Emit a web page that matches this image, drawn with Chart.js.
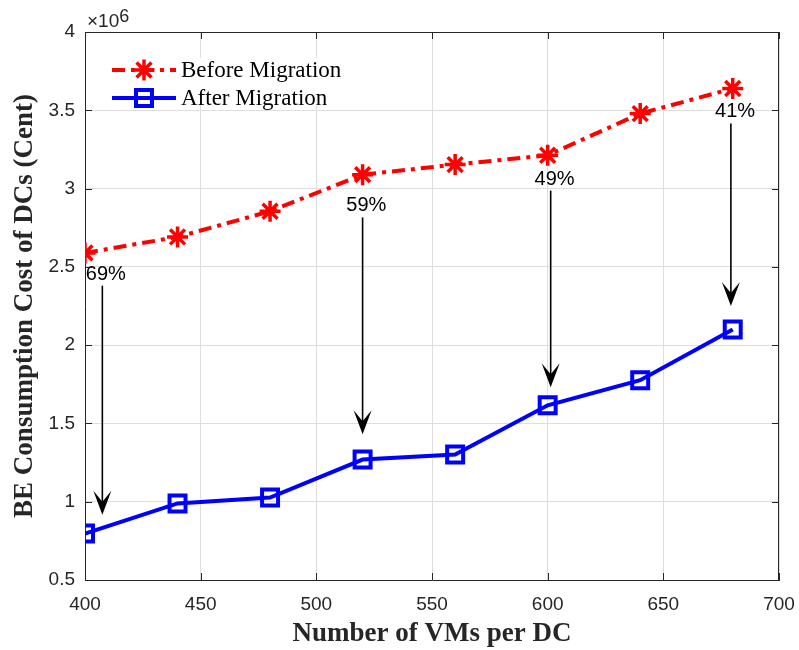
<!DOCTYPE html>
<html><head><meta charset="utf-8">
<script src="https://cdn.jsdelivr.net/npm/chart.js@4/dist/chart.umd.min.js"></script>
<style>html,body{margin:0;padding:0;background:#fff;}#wrap{width:799px;height:650px;}</style>
</head><body><div id="wrap"><canvas id="c" width="799" height="650"></canvas></div>
<script>
const vmCounts = [400, 440, 480, 520, 560, 600, 640, 680];
const beforeMigration = [2.589, 2.691, 2.855, 3.089, 3.153, 3.213, 3.479, 3.639];
const afterMigration = [0.797, 0.989, 1.027, 1.269, 1.301, 1.616, 1.776, 2.100];
const xTicks = [400, 450, 500, 550, 600, 650, 700];
const yTicks = [0.5, 1, 1.5, 2, 2.5, 3, 3.5, 4];
const reductionLabels = ['69%', '59%', '49%', '41%'];
const labelX = [409, 521.6, 603, 681];
const labelY = [2.45, 2.89, 3.058, 3.49];
const arrowX = [407.5, 520, 601.3, 679.2];
const arrowFrom = [2.38, 2.816, 2.987, 3.415];
const arrowTo = [0.917, 1.431, 1.731, 2.25];
const yExponentBase = '\u00d710';
const yExponent = '6';

function drawMarker(ctx, style, r, x, y) {
  ctx.beginPath();
  if (style === 'star') {
    const o = Math.cos(Math.PI / 4) * r;
    ctx.moveTo(x, y - r); ctx.lineTo(x, y + r);
    ctx.moveTo(x - r, y); ctx.lineTo(x + r, y);
    ctx.moveTo(x - o, y - o); ctx.lineTo(x + o, y + o);
    ctx.moveTo(x - o, y + o); ctx.lineTo(x + o, y - o);
  } else {
    const s = Math.SQRT1_2 * r;
    ctx.rect(x - s, y - s, 2 * s, 2 * s);
  }
  ctx.stroke();
}

const matlabDecor = {
  id: 'matlabDecor',
  beforeDatasetsDraw(chart) {
    const { ctx, chartArea: a, scales: { x, y } } = chart;
    ctx.save();
    ctx.strokeStyle = '#262626'; ctx.lineWidth = 1;
    ctx.beginPath();
    ctx.moveTo(a.left, Math.round(a.top) + 0.5); ctx.lineTo(a.right, Math.round(a.top) + 0.5);
    ctx.moveTo(Math.round(a.right) - 0.5, a.top); ctx.lineTo(Math.round(a.right) - 0.5, a.bottom);
    const L = 7;
    xTicks.forEach(v => {
      const px = Math.round(x.getPixelForValue(v)) + 0.5;
      ctx.moveTo(px, a.bottom); ctx.lineTo(px, a.bottom - L);
      ctx.moveTo(px, a.top); ctx.lineTo(px, a.top + L);
    });
    yTicks.forEach(v => {
      const py = Math.round(y.getPixelForValue(v)) + 0.5;
      ctx.moveTo(a.left, py); ctx.lineTo(a.left + L, py);
      ctx.moveTo(a.right, py); ctx.lineTo(a.right - L, py);
    });
    ctx.stroke();
    ctx.fillStyle = '#ffffff';
    ctx.fillRect(104, 58, 250, 47);
    const lx0 = 112, lx1 = 176, lmx = 144, ly = [70, 98], tx = 181;
    chart.data.datasets.forEach((ds, i) => {
      ctx.save();
      ctx.strokeStyle = ds.borderColor; ctx.lineWidth = ds.borderWidth;
      ctx.setLineDash(ds.borderDash || []);
      ctx.beginPath(); ctx.moveTo(lx0, ly[i]); ctx.lineTo(lx1, ly[i]); ctx.stroke();
      ctx.setLineDash([]);
      ctx.lineWidth = ds.pointBorderWidth;
      drawMarker(ctx, ds.pointStyle, ds.pointRadius, lmx, ly[i]);
      ctx.fillStyle = '#000';
      ctx.font = '23px "Liberation Serif"';
      ctx.textAlign = 'left'; ctx.textBaseline = 'middle';
      ctx.fillText(ds.label, tx, ly[i] + 1);
      ctx.restore();
    });
    ctx.restore();
  },
  afterDatasetsDraw(chart) {
    const { ctx, scales: { x, y } } = chart;
    ctx.save();
    ctx.strokeStyle = '#000'; ctx.fillStyle = '#000'; ctx.lineWidth = 1.6;
    arrowX.forEach((v, i) => {
      const px = x.getPixelForValue(v);
      const y0 = y.getPixelForValue(arrowFrom[i]);
      const y1 = y.getPixelForValue(arrowTo[i]);
      ctx.beginPath(); ctx.moveTo(px, y0); ctx.lineTo(px, y1 - 10); ctx.stroke();
      ctx.beginPath();
      ctx.moveTo(px, y1);
      ctx.lineTo(px - 9, y1 - 24);
      ctx.lineTo(px, y1 - 13);
      ctx.lineTo(px + 9, y1 - 24);
      ctx.closePath(); ctx.fill();
    });
    ctx.font = '20px "Liberation Sans"';
    ctx.textAlign = 'center'; ctx.textBaseline = 'middle';
    reductionLabels.forEach((t, i) => {
      ctx.fillText(t, x.getPixelForValue(labelX[i]), y.getPixelForValue(labelY[i]));
    });
    ctx.fillStyle = '#262626';
    ctx.textAlign = 'left'; ctx.textBaseline = 'alphabetic';
    ctx.font = '19px "Liberation Sans"';
    ctx.fillText(yExponentBase, 87, 27);
    const w = ctx.measureText(yExponentBase).width;
    ctx.font = '18px "Liberation Sans"';
    ctx.fillText(yExponent, 87 + w, 22);
    ctx.restore();
  }
};

const noEdgePad = s => { s.paddingLeft = 0; s.paddingRight = 0; s.paddingTop = 0; s.paddingBottom = 0; };

const ctx = document.getElementById('c').getContext('2d');
new Chart(ctx, {
  type: 'line',
  data: {
    datasets: [
      {
        label: 'Before Migration',
        data: vmCounts.map((v, i) => ({ x: v, y: beforeMigration[i] })),
        borderColor: '#ff0000', backgroundColor: '#ff0000',
        borderWidth: 4, borderDash: [13, 6, 4, 6],
        pointStyle: 'star', pointRadius: 10.5, pointBorderWidth: 3.5,
        pointBorderColor: '#ff0000', pointBackgroundColor: '#ff0000',
        fill: false, tension: 0
      },
      {
        label: 'After Migration',
        data: vmCounts.map((v, i) => ({ x: v, y: afterMigration[i] })),
        borderColor: '#0000ff', backgroundColor: 'rgba(0,0,0,0)',
        borderWidth: 4,
        pointStyle: 'rect', pointRadius: 11.3, pointBorderWidth: 4,
        pointBorderColor: '#0000ff', pointBackgroundColor: 'rgba(0,0,0,0)',
        fill: false, tension: 0
      }
    ]
  },
  options: {
    responsive: false, animation: false, devicePixelRatio: 1,
    layout: { padding: { top: 32, right: 20, left: 0, bottom: 0 } },
    plugins: { legend: { display: false }, tooltip: { enabled: false } },
    scales: {
      x: {
        type: 'linear', min: 400, max: 700,
        afterBuildTicks: s => { s.ticks = xTicks.map(v => ({ value: v })); },
        afterFit: s => { s.height = 70; noEdgePad(s); },
        grid: { color: '#dedede', lineWidth: 1, drawTicks: false },
        border: { color: '#262626', width: 1 },
        ticks: { padding: 13, color: '#262626', maxRotation: 0, font: { family: 'Liberation Sans', size: 19 },
          callback: v => String(v) },
        title: { display: true, text: 'Number of VMs per DC', color: '#262626',
          font: { family: 'Liberation Serif', size: 27, weight: 'bold' }, padding: { top: 2, bottom: 0 } }
      },
      y: {
        type: 'linear', min: 0.5, max: 4,
        afterBuildTicks: s => { s.ticks = yTicks.map(v => ({ value: v })); },
        afterFit: s => { s.width = 85; noEdgePad(s); },
        grid: { color: '#dedede', lineWidth: 1, drawTicks: false },
        border: { color: '#262626', width: 1 },
        ticks: { padding: 10, color: '#262626', font: { family: 'Liberation Sans', size: 19 },
          callback: v => String(v) },
        title: { display: true, text: 'BE Consumption Cost of DCs (Cent)', color: '#262626',
          font: { family: 'Liberation Serif', size: 27, weight: 'bold' }, padding: { top: 9, bottom: 0 } }
      }
    }
  },
  plugins: [matlabDecor]
});
</script>
</body></html>
